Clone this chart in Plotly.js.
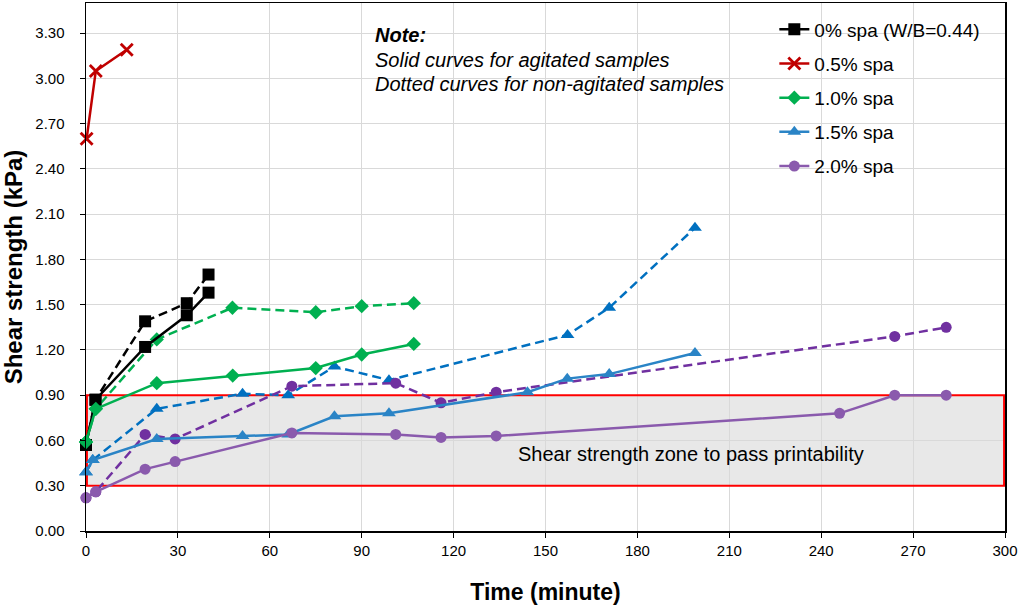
<!DOCTYPE html>
<html>
<head>
<meta charset="utf-8">
<script src="https://cdn.plot.ly/plotly-3.0.1.min.js"></script>
<style>html,body{margin:0;padding:0;background:#fff;}#chart{width:1021px;height:608px;}</style>
</head>
<body>
<div id="chart"></div>
<script>
// ---- Data (time in minutes, shear strength in kPa) ----
const seriesNames = ["0% spa (W/B=0.44)", "0.5% spa", "1.0% spa", "1.5% spa", "2.0% spa"];

// 0% spa
const t0_solid = [0, 3.1, 19.3, 32.9, 40.0];
const v0_solid = [0.57, 0.87, 1.22, 1.43, 1.58];
const t0_dash  = [0, 3.1, 19.3, 32.9, 40.0];
const v0_dash  = [0.57, 0.87, 1.39, 1.51, 1.70];

// 0.5% spa
const t05_solid = [0.2, 3.2, 13.3];
const v05_solid = [2.60, 3.05, 3.19];

// 1.0% spa
const t10_solid = [0, 3.2, 23.1, 47.9, 75.0, 90.0, 107.0];
const v10_solid = [0.59, 0.81, 0.98, 1.03, 1.08, 1.17, 1.24];
const t10_dash  = [0, 3.2, 23.1, 47.8, 75.0, 90.0, 107.0];
const v10_dash  = [0.59, 0.81, 1.27, 1.48, 1.45, 1.49, 1.51];

// 1.5% spa
const t15_solid = [0, 2.2, 23.1, 51.1, 66.0, 81.1, 98.9, 144.1, 157.1, 170.8, 198.8];
const v15_solid = [0.39, 0.47, 0.61, 0.63, 0.64, 0.76, 0.78, 0.92, 1.01, 1.04, 1.18];
const t15_dash  = [0, 2.2, 23.1, 51.1, 66.0, 81.1, 98.9, 157.2, 170.8, 198.8];
const v15_dash  = [0.39, 0.47, 0.81, 0.91, 0.90, 1.09, 1.00, 1.30, 1.48, 2.01];

// 2.0% spa
const t20_solid = [0, 3.2, 19.3, 29.1, 67.2, 101.1, 115.9, 133.9, 246.0, 264.0, 280.8];
const v20_solid = [0.22, 0.26, 0.41, 0.46, 0.65, 0.64, 0.62, 0.63, 0.78, 0.90, 0.90];
const t20_dash  = [0, 3.2, 19.3, 29.1, 67.2, 101.1, 115.9, 133.9, 264.0, 280.8];
const v20_dash  = [0.22, 0.26, 0.64, 0.61, 0.96, 0.98, 0.85, 0.92, 1.29, 1.35];

// Printability zone
const zoneLow = 0.30, zoneHigh = 0.90;
const xTicks = [0, 30, 60, 90, 120, 150, 180, 210, 240, 270, 300];
const yTicks = [0, 0.3, 0.6, 0.9, 1.2, 1.5, 1.8, 2.1, 2.4, 2.7, 3.0, 3.3];

// ---- Styles ----
const DASH = "9px,5px";
function tr(x, y, name, color, symbol, size, dashed, group, show) {
  return {
    x: x, y: y, name: name, type: "scatter", mode: "lines+markers",
    legendgroup: group, showlegend: show,
    line: {color: color, width: 2.5, dash: dashed ? DASH : "solid"},
    marker: {color: color, symbol: symbol, size: size, line: {width: 0}},
    cliponaxis: false
  };
}

const traces = [
  tr(t0_dash, v0_dash, seriesNames[0], "#000000", "square", 12, true, "g0", false),
  tr(t10_dash, v10_dash, seriesNames[2], "#00b050", "diamond", 11, true, "g2", false),
  tr(t15_dash, v15_dash, seriesNames[3], "#0070c0", "triangle-up", 12, true, "g3", false),
  tr(t20_dash, v20_dash, seriesNames[4], "#7030a0", "circle", 11, true, "g4", false),
  tr(t0_solid, v0_solid, seriesNames[0], "#000000", "square", 12, false, "g0", true),
  tr(t05_solid, v05_solid, seriesNames[1], "#c00000", "x-thin-open", 12, false, "g1", true),
  tr(t10_solid, v10_solid, seriesNames[2], "#00b050", "diamond", 11, false, "g2", true),
  tr(t15_solid, v15_solid, seriesNames[3], "#2a84c6", "triangle-up", 12, false, "g3", true),
  tr(t20_solid, v20_solid, seriesNames[4], "#8a5aad", "circle", 11, false, "g4", true)
];
traces[5].marker.line = {color: "#c00000", width: 2.8};

const FONT = "Liberation Sans, Arial, sans-serif";

const layout = {
  width: 1021, height: 608,
  margin: {l: 86, r: 16, t: 3, b: 77},
  paper_bgcolor: "#ffffff", plot_bgcolor: "#ffffff",
  font: {family: FONT, size: 15, color: "#000"},
  showlegend: true,
  legend: {
    x: 0.749, y: 0.986, xanchor: "left", yanchor: "top",
    bgcolor: "rgba(0,0,0,0)", borderwidth: 0,
    font: {family: FONT, size: 19, color: "#000"},
    traceorder: "grouped", tracegroupgap: 6.5,
    itemwidth: 30
  },
  xaxis: {
    range: [0, 300], tickvals: xTicks, ticktext: xTicks.map(String),
    showgrid: true, gridcolor: "#d9d9d9", gridwidth: 1,
    zeroline: false, showline: true, linecolor: "#000", linewidth: 1.5, mirror: true,
    ticks: "outside", ticklen: 5, tickcolor: "#000",
    tickfont: {family: FONT, size: 15},
    title: {text: "<b>Time (minute)</b>", font: {family: FONT, size: 23}, standoff: 26}
  },
  yaxis: {
    range: [0, 3.5], tickvals: yTicks, ticktext: yTicks.map(v => v.toFixed(2)),
    showgrid: true, gridcolor: "#d9d9d9", gridwidth: 1,
    zeroline: false, showline: true, linecolor: "#000", linewidth: 1.5, mirror: true,
    ticks: "outside", ticklen: 5, tickcolor: "#000",
    ticklabelstandoff: 12,
    tickfont: {family: FONT, size: 15},
    title: {text: "<b>Shear strength (kPa)</b>", font: {family: FONT, size: 24}, standoff: 7}
  },
  shapes: [
    {type: "rect", xref: "x", yref: "y", layer: "below",
     x0: 0.3, x1: 299.7, y0: zoneLow, y1: zoneHigh,
     fillcolor: "#e8e8e8", line: {width: 0}},
    {type: "rect", xref: "x", yref: "y", layer: "between",
     x0: 0.3, x1: 299.7, y0: zoneLow, y1: zoneHigh,
     fillcolor: "rgba(0,0,0,0)", line: {color: "#ff0000", width: 2}}
  ],
  annotations: [
    {xref: "paper", yref: "paper", x: (373-86)/919, y: (531-35)/528, xanchor: "left", yanchor: "middle",
     text: "<b><i>Note:</i></b>", showarrow: false, font: {family: FONT, size: 20}},
    {xref: "paper", yref: "paper", x: (373-86)/919, y: (531-60)/528, xanchor: "left", yanchor: "middle",
     text: "<i>Solid curves for agitated samples</i>", showarrow: false, font: {family: FONT, size: 20}},
    {xref: "paper", yref: "paper", x: (373-86)/919, y: (531-84)/528, xanchor: "left", yanchor: "middle",
     text: "<i>Dotted curves for non-agitated samples</i>", showarrow: false, font: {family: FONT, size: 20}},
    {xref: "paper", yref: "paper", x: (691-86)/919, y: (531-454)/528, xanchor: "center", yanchor: "middle",
     text: "Shear strength zone to pass printability", showarrow: false, font: {family: FONT, size: 20}}
  ]
};

Plotly.newPlot("chart", traces, layout, {displayModeBar: false, staticPlot: true});
</script>
</body>
</html>
